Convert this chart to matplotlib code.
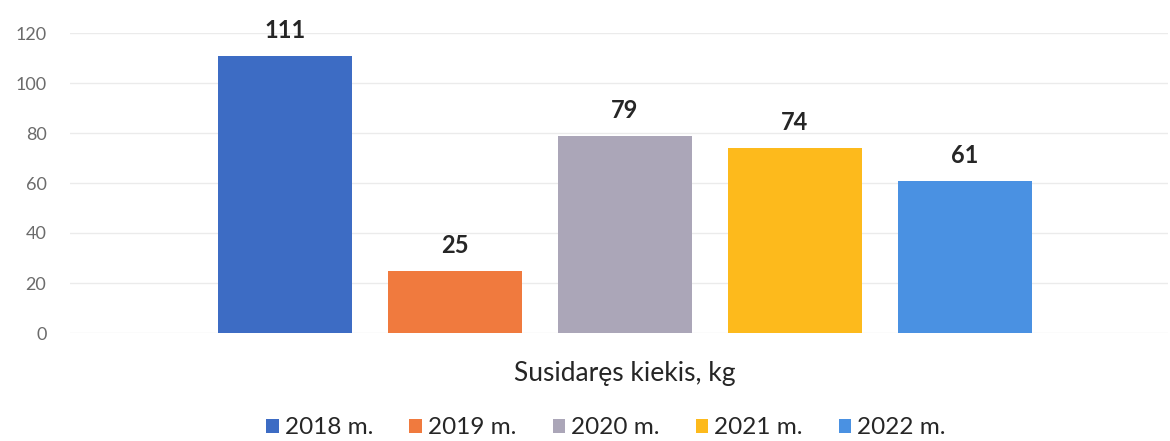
import matplotlib.pyplot as plt

# Chart data
years = ['2018 m.', '2019 m.', '2020 m.', '2021 m.', '2022 m.']
values = [111, 25, 79, 74, 61]
colors = ['#3D6CC4', '#F07A3E', '#ABA6B8', '#FDBA1C', '#4A91E2']
yticks = [0, 20, 40, 60, 80, 100, 120]

plt.rcParams['font.family'] = ['Lato', 'DejaVu Sans']

fig = plt.figure(figsize=(11.7, 4.41), dpi=100)
ax = fig.add_axes([70 / 1170, 1 - 333 / 441, 1098 / 1170, 300 / 441])

positions = range(len(values))
bars = ax.bar(positions, values, width=0.79, color=colors, label=years, zorder=2)

for pos, val in zip(positions, values):
    ax.annotate(str(val), (pos, val), xytext=(0, 10), textcoords='offset points',
                ha='center', va='bottom', fontsize=17, fontweight='bold', color='#262626')

ax.set_xlim(-1.265, 5.195)
ax.set_ylim(0, 120)
ax.set_yticks(yticks)
ax.set_xticks([])
ax.yaxis.grid(True, color='#EBEBEB', linewidth=1, zorder=0)
ax.tick_params(axis='y', length=0, labelsize=13, labelcolor='#6B6B6B', pad=17)
for spine in ax.spines.values():
    spine.set_visible(False)

fig.text(625 / 1170, 1 - 373 / 441, 'Susidaręs kiekis, kg', ha='center', va='center',
         fontsize=19, color='#262626')

fig.legend(handles=bars, labels=years, loc='center', bbox_to_anchor=(606 / 1170, 1 - 428 / 441),
           ncol=5, frameon=False, fontsize=17.5, handlelength=0.5, handleheight=0.5,
           handletextpad=0.25, columnspacing=1.5, labelcolor='#262626',
           borderpad=0, borderaxespad=0)

plt.savefig('out.png', dpi=100)
